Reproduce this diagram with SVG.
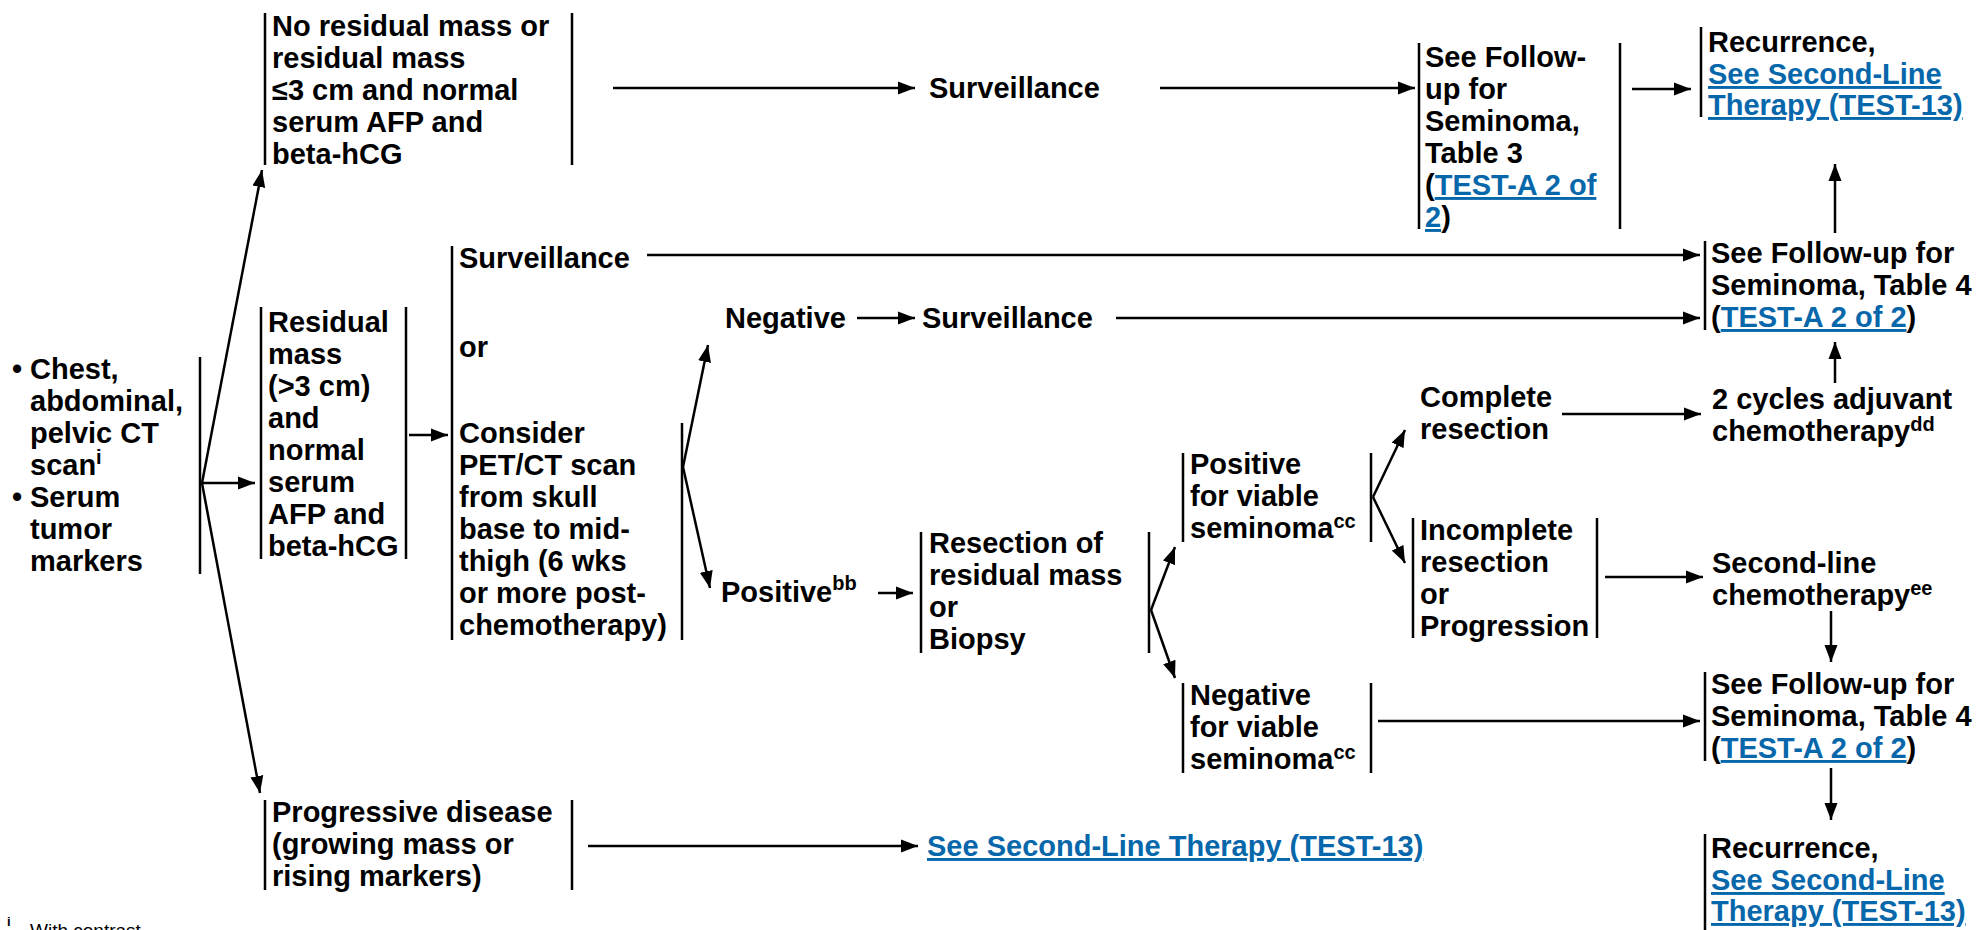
<svg xmlns="http://www.w3.org/2000/svg" width="1978" height="930" viewBox="0 0 1978 930">
<style>
text{font-family:"Liberation Sans",Arial,Helvetica,sans-serif;font-weight:bold;font-size:29px;fill:#000}
.lk{fill:#0767ab;text-decoration:underline}
.sup{font-size:20px}
.fn{font-weight:normal;font-size:19px}
.bar{stroke:#000;stroke-width:2.5;fill:none}
.cn line{stroke:#000;stroke-width:2.5;fill:none;marker-end:url(#ah)}
</style>
<defs>
<marker id="ah" markerUnits="userSpaceOnUse" markerWidth="18" markerHeight="14" refX="17" refY="7" orient="auto" viewBox="0 0 18 14">
<path d="M0,0.5 L17,7 L0,13.5 z" fill="#000"/>
</marker>
</defs>
<rect width="1978" height="930" fill="#fff"/>

<g id="n_start">
<line class="bar" x1="200" y1="357" x2="200" y2="574"/>
<text><tspan x="12" y="379">•</tspan><tspan x="30" y="379">Chest,</tspan><tspan x="30" y="411">abdominal,</tspan><tspan x="30" y="443">pelvic CT</tspan><tspan x="30" y="475">scan</tspan><tspan class="sup" dy="-11">i</tspan><tspan x="12" y="507">•</tspan><tspan x="30" y="507">Serum</tspan><tspan x="30" y="539">tumor</tspan><tspan x="30" y="571">markers</tspan></text>
</g>

<g id="n_nores">
<line class="bar" x1="265" y1="13" x2="265" y2="165"/>
<line class="bar" x1="572" y1="13" x2="572" y2="165"/>
<text><tspan x="272" y="36">No residual mass or</tspan><tspan x="272" y="68">residual mass</tspan><tspan x="272" y="100">≤3 cm and normal</tspan><tspan x="272" y="132">serum AFP and</tspan><tspan x="272" y="164">beta-hCG</tspan></text>
</g>

<g id="n_surv1"><text x="929" y="98">Surveillance</text></g>

<g id="n_table3">
<line class="bar" x1="1419" y1="43" x2="1419" y2="229"/>
<line class="bar" x1="1620" y1="43" x2="1620" y2="229"/>
<text><tspan x="1425" y="67">See Follow-</tspan><tspan x="1425" y="99">up for</tspan><tspan x="1425" y="131">Seminoma,</tspan><tspan x="1425" y="163">Table 3</tspan><tspan x="1425" y="195">(</tspan><tspan class="lk">TEST-A 2 of</tspan><tspan x="1425" y="227" class="lk">2</tspan><tspan>)</tspan></text>
</g>

<g id="n_rec1">
<line class="bar" x1="1701" y1="27" x2="1701" y2="117"/>
<text><tspan x="1708" y="52">Recurrence,</tspan><tspan x="1708" y="84" class="lk">See Second-Line</tspan><tspan x="1708" y="115" class="lk">Therapy (TEST-13)</tspan></text>
</g>

<g id="n_resid">
<line class="bar" x1="261" y1="307" x2="261" y2="559"/>
<line class="bar" x1="406" y1="307" x2="406" y2="559"/>
<text><tspan x="268" y="332">Residual</tspan><tspan x="268" y="364">mass</tspan><tspan x="268" y="396">(&gt;3 cm)</tspan><tspan x="268" y="428">and</tspan><tspan x="268" y="460">normal</tspan><tspan x="268" y="492">serum</tspan><tspan x="268" y="524">AFP and</tspan><tspan x="268" y="556">beta-hCG</tspan></text>
</g>

<g id="n_consider">
<line class="bar" x1="452" y1="246" x2="452" y2="640"/>
<line class="bar" x1="682" y1="423" x2="682" y2="640"/>
<text><tspan x="459" y="268">Surveillance</tspan><tspan x="459" y="357">or</tspan><tspan x="459" y="443">Consider</tspan><tspan x="459" y="475">PET/CT scan</tspan><tspan x="459" y="507">from skull</tspan><tspan x="459" y="539">base to mid-</tspan><tspan x="459" y="571">thigh (6 wks</tspan><tspan x="459" y="603">or more post-</tspan><tspan x="459" y="635">chemotherapy)</tspan></text>
</g>

<g id="n_table4a">
<line class="bar" x1="1705" y1="241" x2="1705" y2="330"/>
<text><tspan x="1711" y="263">See Follow-up for</tspan><tspan x="1711" y="295">Seminoma, Table 4</tspan><tspan x="1711" y="327">(</tspan><tspan class="lk">TEST-A 2 of 2</tspan><tspan>)</tspan></text>
</g>

<g id="n_neg"><text x="725" y="328">Negative</text></g>
<g id="n_surv2"><text x="922" y="328">Surveillance</text></g>
<g id="n_pos"><text x="721" y="602">Positive<tspan class="sup" dy="-12">bb</tspan></text></g>

<g id="n_resect">
<line class="bar" x1="921" y1="532" x2="921" y2="653"/>
<line class="bar" x1="1149" y1="532" x2="1149" y2="653"/>
<text><tspan x="929" y="553">Resection of</tspan><tspan x="929" y="585">residual mass</tspan><tspan x="929" y="617">or</tspan><tspan x="929" y="649">Biopsy</tspan></text>
</g>

<g id="n_posvia">
<line class="bar" x1="1183" y1="453" x2="1183" y2="542"/>
<line class="bar" x1="1371" y1="453" x2="1371" y2="542"/>
<text><tspan x="1190" y="474">Positive</tspan><tspan x="1190" y="506">for viable</tspan><tspan x="1190" y="538">seminoma</tspan><tspan class="sup" dy="-10">cc</tspan></text>
</g>

<g id="n_negvia">
<line class="bar" x1="1183" y1="683" x2="1183" y2="773"/>
<line class="bar" x1="1371" y1="683" x2="1371" y2="773"/>
<text><tspan x="1190" y="705">Negative</tspan><tspan x="1190" y="737">for viable</tspan><tspan x="1190" y="769">seminoma</tspan><tspan class="sup" dy="-10">cc</tspan></text>
</g>

<g id="n_complete"><text><tspan x="1420" y="407">Complete</tspan><tspan x="1420" y="439">resection</tspan></text></g>

<g id="n_incomplete">
<line class="bar" x1="1413" y1="518" x2="1413" y2="638"/>
<line class="bar" x1="1597" y1="518" x2="1597" y2="638"/>
<text><tspan x="1420" y="540">Incomplete</tspan><tspan x="1420" y="572">resection</tspan><tspan x="1420" y="604">or</tspan><tspan x="1420" y="636">Progression</tspan></text>
</g>

<g id="n_cycles"><text><tspan x="1712" y="409">2 cycles adjuvant</tspan><tspan x="1712" y="441">chemotherapy</tspan><tspan class="sup" dy="-10">dd</tspan></text></g>

<g id="n_second"><text><tspan x="1712" y="573">Second-line</tspan><tspan x="1712" y="605">chemotherapy</tspan><tspan class="sup" dy="-10">ee</tspan></text></g>

<g id="n_table4b">
<line class="bar" x1="1705" y1="672" x2="1705" y2="761"/>
<text><tspan x="1711" y="694">See Follow-up for</tspan><tspan x="1711" y="726">Seminoma, Table 4</tspan><tspan x="1711" y="758">(</tspan><tspan class="lk">TEST-A 2 of 2</tspan><tspan>)</tspan></text>
</g>

<g id="n_rec2">
<line class="bar" x1="1705" y1="834" x2="1705" y2="930"/>
<text><tspan x="1711" y="858">Recurrence,</tspan><tspan x="1711" y="890" class="lk">See Second-Line</tspan><tspan x="1711" y="921" class="lk">Therapy (TEST-13)</tspan></text>
</g>

<g id="n_prog">
<line class="bar" x1="265" y1="800" x2="265" y2="890"/>
<line class="bar" x1="572" y1="800" x2="572" y2="890"/>
<text><tspan x="272" y="822">Progressive disease</tspan><tspan x="272" y="854">(growing mass or</tspan><tspan x="272" y="886">rising markers)</tspan></text>
</g>

<g id="n_see2"><text x="927" y="856" class="lk">See Second-Line Therapy (TEST-13)</text></g>

<g id="footnote"><text class="fn"><tspan x="7" y="926" font-size="13" font-weight="bold">i</tspan><tspan x="30" y="937">With contrast</tspan></text></g>

<g id="connectors" class="cn">
<line x1="202" y1="483" x2="262" y2="170"/>
<line x1="202" y1="483" x2="255" y2="483"/>
<line x1="202" y1="483" x2="260" y2="793"/>
<line x1="613" y1="88" x2="915" y2="88"/>
<line x1="1160" y1="88" x2="1415" y2="88"/>
<line x1="1632" y1="89" x2="1691" y2="89"/>
<line x1="409" y1="435" x2="448" y2="435"/>
<line x1="647" y1="255" x2="1700" y2="255"/>
<line x1="683" y1="467" x2="708" y2="345"/>
<line x1="683" y1="467" x2="710" y2="588"/>
<line x1="857" y1="318" x2="915" y2="318"/>
<line x1="1116" y1="318" x2="1700" y2="318"/>
<line x1="1835" y1="233" x2="1835" y2="164"/>
<line x1="878" y1="593" x2="913" y2="593"/>
<line x1="1151" y1="610" x2="1175" y2="547"/>
<line x1="1151" y1="610" x2="1175" y2="678"/>
<line x1="1373" y1="497" x2="1405" y2="430"/>
<line x1="1373" y1="497" x2="1405" y2="563"/>
<line x1="1562" y1="414" x2="1701" y2="414"/>
<line x1="1835" y1="383" x2="1835" y2="342"/>
<line x1="1605" y1="577" x2="1703" y2="577"/>
<line x1="1831" y1="611" x2="1831" y2="662"/>
<line x1="1378" y1="721" x2="1700" y2="721"/>
<line x1="1831" y1="768" x2="1831" y2="820"/>
<line x1="588" y1="846" x2="918" y2="846"/>
</g>
</svg>
